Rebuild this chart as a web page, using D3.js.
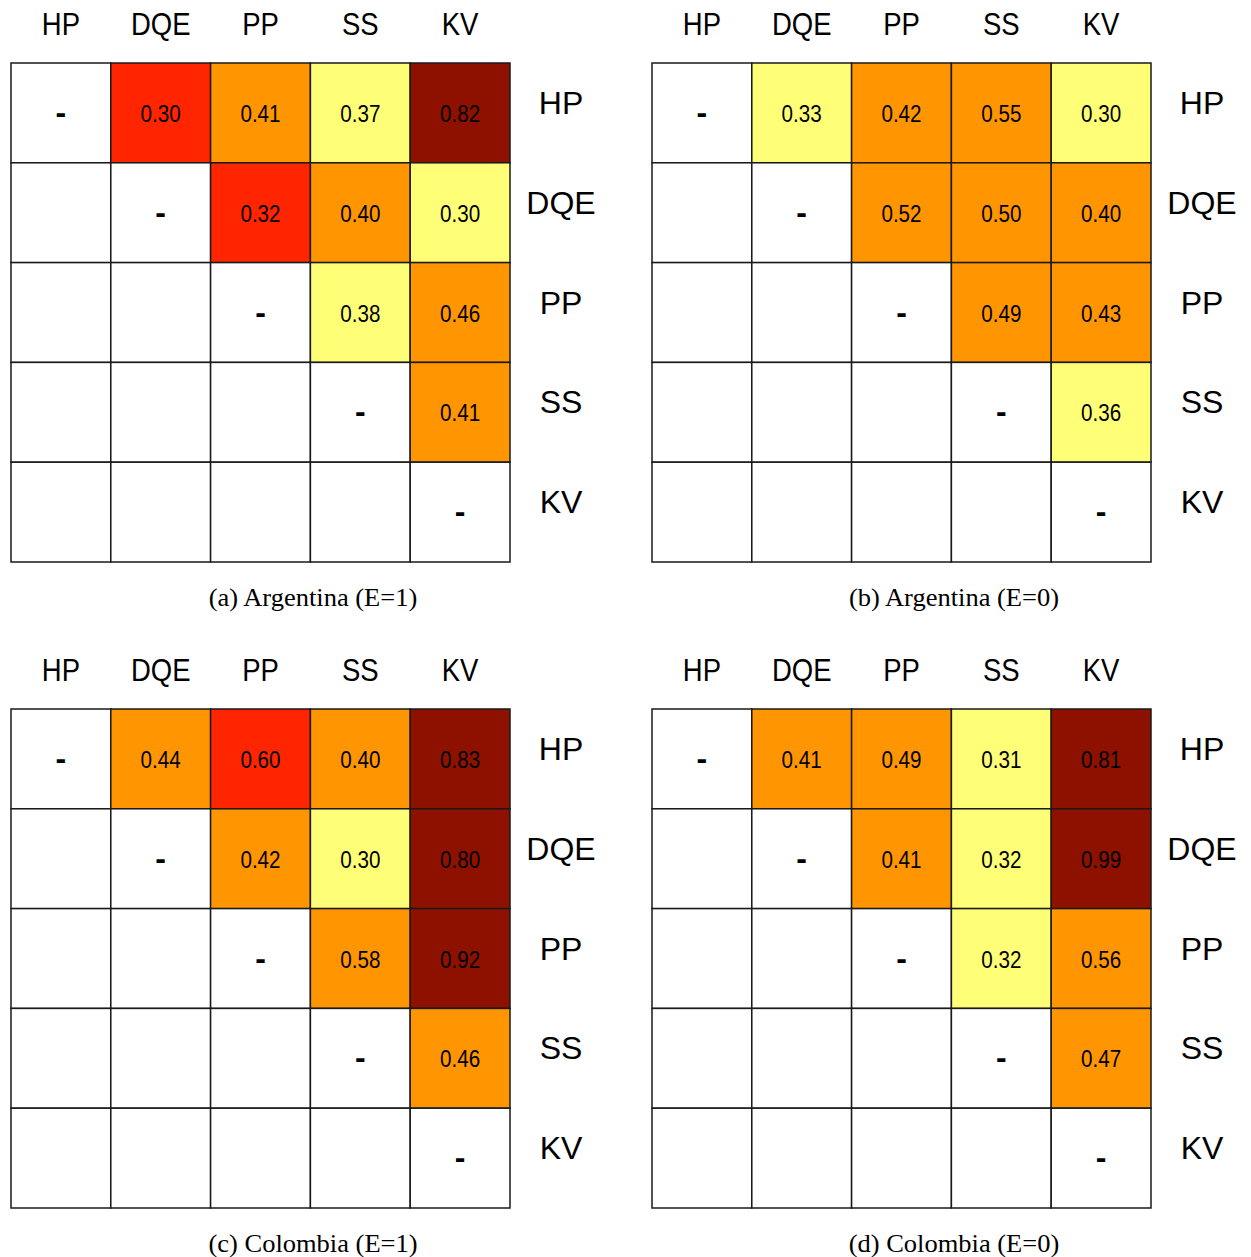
<!DOCTYPE html>
<html>
<head>
<meta charset="utf-8">
<script src="https://cdn.jsdelivr.net/npm/d3@7"></script>
<style>
  body { margin: 0; background: #fff; }
  svg { display: block; }
</style>
</head>
<body>
<svg id="chart" width="1251" height="1257"></svg>
<script>
// variables, in header/row order
const vars = ["HP", "DQE", "PP", "SS", "KV"];

// upper-triangle values per panel, row by row (i < j)
const argE1 = [
  [null, 0.30, 0.41, 0.37, 0.82],
  [null, null, 0.32, 0.40, 0.30],
  [null, null, null, 0.38, 0.46],
  [null, null, null, null, 0.41],
  [null, null, null, null, null]
];
const argE0 = [
  [null, 0.33, 0.42, 0.55, 0.30],
  [null, null, 0.52, 0.50, 0.40],
  [null, null, null, 0.49, 0.43],
  [null, null, null, null, 0.36],
  [null, null, null, null, null]
];
const colE1 = [
  [null, 0.44, 0.60, 0.40, 0.83],
  [null, null, 0.42, 0.30, 0.80],
  [null, null, null, 0.58, 0.92],
  [null, null, null, null, 0.46],
  [null, null, null, null, null]
];
const colE0 = [
  [null, 0.41, 0.49, 0.31, 0.81],
  [null, null, 0.41, 0.32, 0.99],
  [null, null, null, 0.32, 0.56],
  [null, null, null, null, 0.47],
  [null, null, null, null, null]
];

// colour class of each cell as shown (y = yellow, o = orange, r = red, d = dark red)
const argE1Cls = [
  ["", "r", "o", "y", "d"],
  ["", "", "r", "o", "y"],
  ["", "", "", "y", "o"],
  ["", "", "", "", "o"],
  ["", "", "", "", ""]
];
const argE0Cls = [
  ["", "y", "o", "o", "y"],
  ["", "", "o", "o", "o"],
  ["", "", "", "o", "o"],
  ["", "", "", "", "y"],
  ["", "", "", "", ""]
];
const colE1Cls = [
  ["", "o", "r", "o", "d"],
  ["", "", "o", "y", "d"],
  ["", "", "", "o", "d"],
  ["", "", "", "", "o"],
  ["", "", "", "", ""]
];
const colE0Cls = [
  ["", "o", "o", "y", "d"],
  ["", "", "o", "y", "d"],
  ["", "", "", "y", "o"],
  ["", "", "", "", "o"],
  ["", "", "", "", ""]
];

const captions = ["(a) Argentina (E=1)", "(b) Argentina (E=0)", "(c) Colombia (E=1)", "(d) Colombia (E=0)"];

const panels = [
  { vals: argE1, cls: argE1Cls, x: 11, y: 63 },
  { vals: argE0, cls: argE0Cls, x: 652, y: 63 },
  { vals: colE1, cls: colE1Cls, x: 11, y: 709 },
  { vals: colE0, cls: colE0Cls, x: 652, y: 709 }
];

const color = d3.scaleOrdinal()
  .domain(["", "y", "o", "r", "d"])
  .range(["#ffffff", "#ffff77", "#ff9500", "#ff2500", "#8e1100"]);

const gridSize = 499;
const svg = d3.select("#chart");
const sans = "'Liberation Sans', Arial, Helvetica, sans-serif";
const serif = "'Liberation Serif', 'Times New Roman', serif";

panels.forEach((p, pi) => {
  const x = d3.scaleBand().domain(vars).range([0, gridSize]);
  const y = d3.scaleBand().domain(vars).range([0, gridSize]);
  const bw = x.bandwidth();

  const g = svg.append("g").attr("transform", `translate(${p.x},${p.y})`);

  // flatten to cells
  const cells = [];
  vars.forEach((r, i) => vars.forEach((c, j) => {
    cells.push({ row: r, col: c, i, j, v: p.vals[i][j], k: p.cls[i][j] });
  }));

  g.selectAll("rect.cell")
    .data(cells)
    .join("rect")
    .attr("class", "cell")
    .attr("x", d => x(d.col))
    .attr("y", d => y(d.row))
    .attr("width", bw)
    .attr("height", bw)
    .attr("fill", d => color(d.k))
    .attr("stroke", "#1a1a1a")
    .attr("stroke-width", 1.5);

  // values above the diagonal
  g.selectAll("text.val")
    .data(cells.filter(d => d.i < d.j))
    .join("text")
    .attr("class", "val")
    .attr("transform", d => `translate(${x(d.col) + bw / 2},${y(d.row) + bw / 2 + 9}) scale(0.86,1)`)
    .attr("text-anchor", "middle")
    .style("font-family", sans)
    .style("font-size", "24px")
    .attr("fill", "#000")
    .text(d => d.v.toFixed(2));

  // dashes on the diagonal
  g.selectAll("text.dash")
    .data(cells.filter(d => d.i === d.j))
    .join("text")
    .attr("class", "dash")
    .attr("x", d => x(d.col) + bw / 2)
    .attr("y", d => y(d.row) + bw / 2 + 10)
    .attr("text-anchor", "middle")
    .style("font-family", sans)
    .style("font-size", "32px")
    .style("font-weight", "bold")
    .text("-");

  // column headers
  g.selectAll("text.colhead")
    .data(vars)
    .join("text")
    .attr("class", "colhead")
    .attr("transform", d => `translate(${x(d) + bw / 2},${-28}) scale(0.86,1)`)
    .attr("text-anchor", "middle")
    .style("font-family", sans)
    .style("font-size", "32px")
    .text(d => d);

  // row labels on the right
  g.selectAll("text.rowhead")
    .data(vars)
    .join("text")
    .attr("class", "rowhead")
    .attr("x", gridSize + 51)
    .attr("y", d => y(d) + bw / 2 + 1)
    .attr("text-anchor", "middle")
    .style("font-family", sans)
    .style("font-size", "32px")
    .text(d => d);

  // caption
  g.append("text")
    .attr("transform", `translate(${302},${gridSize + 44}) scale(1.06,1)`)
    .attr("text-anchor", "middle")
    .style("font-family", serif)
    .style("font-size", "25px")
    .text(captions[pi]);
});
</script>
</body>
</html>
